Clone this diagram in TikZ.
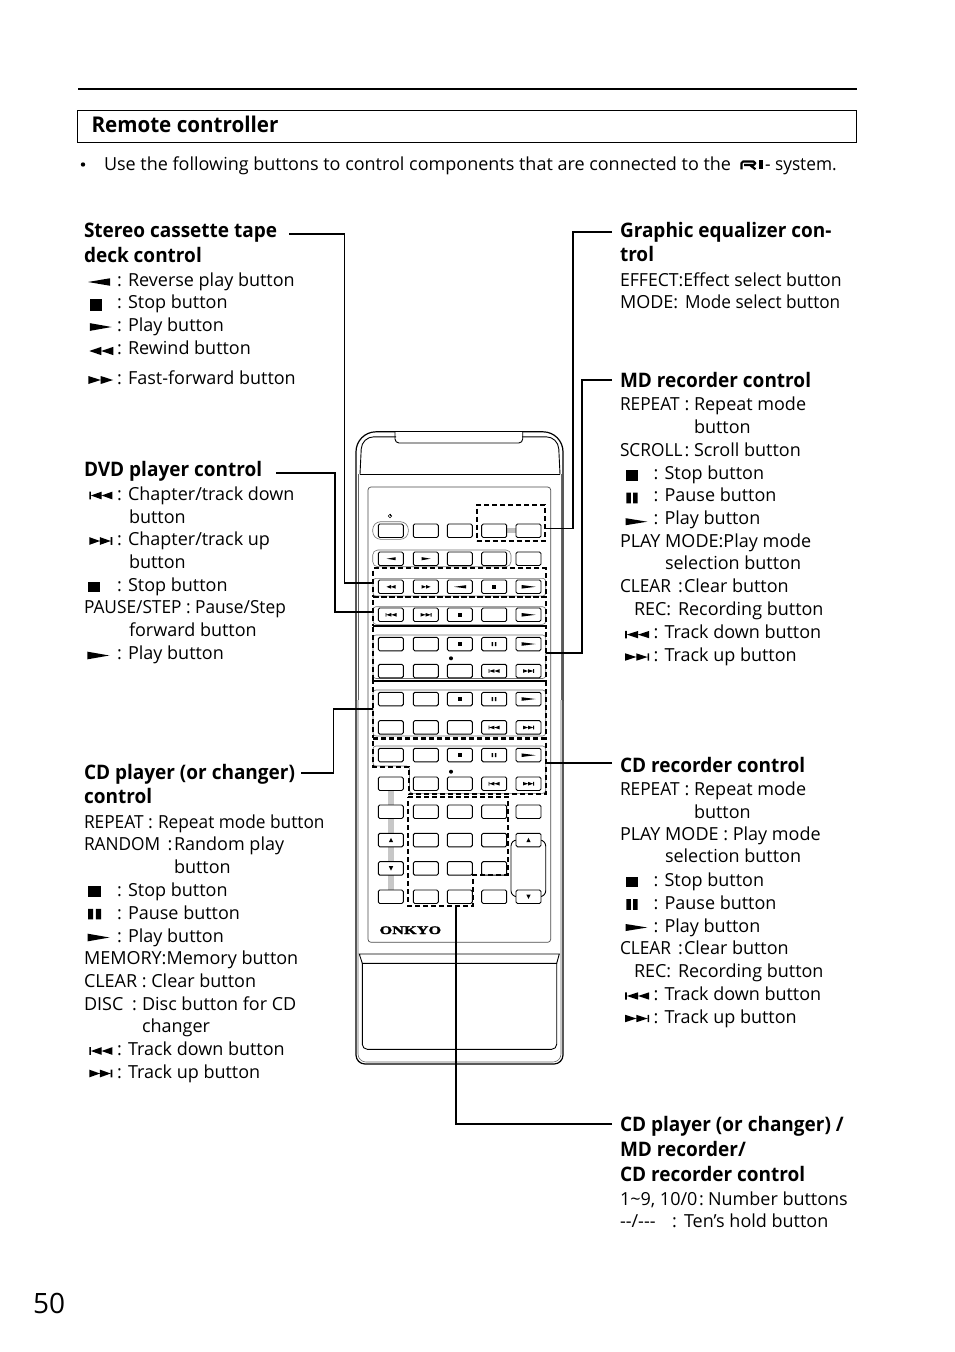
\documentclass[tikz,border=0pt]{standalone}
\usepackage{fontspec}
\setmainfont{Open Sans}[BoldFeatures={FakeStretch=0.95}]
\newfontfamily\onkyofont{Liberation Serif}[BoldFeatures={FakeBold=1.2}]
\newcounter{auton}
\newcommand{\TT}[3]{\stepcounter{auton}\node[txt] (t\arabic{auton}) at (#1,#2) {#3};}
\newcommand{\HH}[3]{\stepcounter{auton}\node[hd] (t\arabic{auton}) at (#1,#2) {#3};}
\newcommand{\Btn}[2]{\stepcounter{auton}\node[btn] (b\arabic{auton}) at (#1,#2) {};}
\newcommand{\nw}[1]{\scalebox{.96}[1]{#1}}
\newcommand{\gl}[5]{\fill[shift={(#2,#3)},xscale=#4/2,yscale=#5/2] #1;}
\def\pRev{(-1,0)--(1,-1)--(1,1)--cycle}
\def\pPlay{(1,0)--(-1,-1)--(-1,1)--cycle}
\def\pRew{(-1,0)--(0,-1)--(0,1)--cycle (0,0)--(1,-1)--(1,1)--cycle}
\def\pFf{(1,0)--(0,-1)--(0,1)--cycle (0,0)--(-1,-1)--(-1,1)--cycle}
\def\pPrev{(-1,-1) rectangle (-.86,1) (-.86,0)--(.07,-1)--(.07,1)--cycle (.07,0)--(1,-1)--(1,1)--cycle}
\def\pNext{(1,-1) rectangle (.86,1) (.86,0)--(-.07,-1)--(-.07,1)--cycle (-.07,0)--(-1,-1)--(-1,1)--cycle}
\def\pStop{(-1,-1) rectangle (1,1)}
\def\pPause{(-1,-1) rectangle (-.2,1) (.2,-1) rectangle (1,1)}
\def\pPauseS{(-1,-1) rectangle (-.4,1) (.4,-1) rectangle (1,1)}
\def\pUp{(0,-1)--(1,1)--(-1,1)--cycle}
\def\pDown{(0,1)--(1,-1)--(-1,-1)--cycle}
\tikzset{
 txt/.style={anchor=base west,inner sep=0pt,outer sep=0pt,font=\fontsize{18}{22}\selectfont},
 hd/.style={anchor=base west,inner sep=0pt,outer sep=0pt,font=\fontsize{20}{24}\selectfont\bfseries},
 btn/.style={draw=black,fill=white,line width=.95pt,rounded corners=1.5pt,anchor=north west,minimum width=25pt,minimum height=13.5pt,inner sep=0pt,outer sep=0pt},
 conn/.style={draw=black,line width=1.8pt},
 dbox/.style={draw=black,line width=2pt,dash pattern=on 5pt off 3pt,inner sep=0pt,outer sep=0pt,anchor=north west},
 dline/.style={draw=black,line width=2pt,dash pattern=on 5pt off 3pt},
 grp/.style={draw=black!55,line width=.6pt,rounded corners=3pt},
 body/.style={draw=black,line width=.9pt},
 inner/.style={draw=black!60,line width=.6pt},
}
\begin{document}
\begin{tikzpicture}[x=1pt,y=-1pt]
\useasboundingbox (0,0) rectangle (954,1352);
\fill[white] (0,0) rectangle (954,1352);
% header
\coordinate (ruleL) at (78,89);\coordinate (ruleR) at (857,89);
\draw[line width=1.8pt] (ruleL)--(ruleR);
\draw[line width=.9pt] (77.5,110) rectangle (856.5,142);
\HH{91.5}{132}{\fontsize{21.7}{24}\selectfont Remote controller}
\fill (83,164.5) circle (2.2);
\TT{104}{170}{Use the following buttons to control components that are connected to the}
\draw[line width=2.2pt,line join=round,rounded corners=1.6pt] (741.5,169.3)--(741.5,161.5)--(755.2,161.5)--(755.2,165)--(744,165) (750,165)--(755.5,169.3);
\fill (759,160.3) rectangle (763,169.3);
\TT{765}{170}{\nw{- system.}}
\TT{33}{1313}{\fontsize{28}{32}\selectfont 50}
% remote body
\draw[body,line width=1.2pt,rounded corners=20pt] (395,431.8)--(356,431.8)--(356,700);
\draw[body,line width=1.2pt,rounded corners=9pt] (356,700)--(356,1064)--(563,1064)--(563,700);
\draw[body,line width=1.2pt,rounded corners=20pt] (563,700)--(563,431.8)--(522.7,431.8);
\draw[body,rounded corners=4pt] (395,431.8)--(395,443)--(522.7,443)--(522.7,431.8);
\draw[body,line width=1.2pt] (395,431.8)--(522.7,431.8);
\draw[inner,rounded corners=8pt] (358,700)--(358,1062)--(561,1062)--(561,700);
\draw[inner] (358,474)--(358,700) (561,474)--(561,700);
\draw[body,rounded corners=12pt] (360,474.3)--(361.8,436.8)--(396,436.8);
\draw[body,rounded corners=12pt] (560,474.3)--(558.2,436.8)--(522,436.8);
\draw[body] (360,474.3)--(560,474.3);
\draw[draw=black!70,line width=.7pt,rounded corners=3pt] (368,942.3)--(368,487)--(550.7,487)--(550.7,942.3)--cycle;
% lower cover
\draw[body] (359.3,954)--(559.3,954)--(556.7,963.3)--(362.3,963.3)--cycle;
\draw[body,rounded corners=5pt] (362.3,963.3)--(362.3,1049.3)--(556.7,1049.3)--(556.7,963.3);
% gray parts
\fill[black!25] (506.7,528) rectangle (516,533);
\fill[black!22] (388.3,790) rectangle (394,890);
\draw[grp,rounded corners=8pt] (372.7,521.7) rectangle (408.3,539.3);
\draw[grp,rounded corners=5pt] (372.7,550) rectangle (511,566.7);
\draw[grp] (373,578.3) rectangle (545.7,596);
\draw[grp] (373,606.7) rectangle (545.7,624.3);
\draw[grp] (373,635) rectangle (545.7,678.5);
\draw[grp] (373,690) rectangle (545.7,736);
\draw[grp] (373,746)--(545.7,746)--(545.7,793.3)--(409.5,793.3)--(409.5,766)--(373,766)--cycle;
\draw[draw=black,line width=.9pt,rounded corners=6pt] (511,840)--(511,896.7)--(545.7,896.7)--(545.7,840)--cycle;
% buttons
\foreach \yy in {524,552,580,608,637.3,664.3,692.3,720.7,748.3,777,805,833.3,890}{
 \foreach \xx in {378.3,413.3,447.3,481.7,516}{
  \Btn{\xx}{\yy}
 }}
\foreach \xx in {378.3,413.3,447.3,481.7}{\Btn{\xx}{861.7}}
% power symbol
\draw[line width=.5pt] (390,516) circle (1.8);\draw[line width=.6pt] (390,513.5)--(390,516);
% button glyphs
\newcommand{\cA}{391}\newcommand{\cB}{426}\newcommand{\cC}{460}\newcommand{\cD}{494}\newcommand{\cE}{528.5}
\gl{\pRev}{\cA}{558.7}{9}{3}\gl{\pPlay}{\cB}{558.7}{9}{3.2}
\gl{\pRew}{\cA}{586.8}{9}{3.6}\gl{\pFf}{\cB}{586.8}{9}{3.6}\gl{\pRev}{\cC}{586.8}{12}{3.2}\gl{\pStop}{\cD}{586.8}{4}{4}\gl{\pPlay}{\cE}{586.8}{14}{3.6}
\gl{\pPrev}{\cA}{614.8}{11}{3.6}\gl{\pNext}{\cB}{614.8}{11}{3.6}\gl{\pStop}{\cC}{614.8}{4}{4}\gl{\pPlay}{\cE}{614.8}{14}{3.6}
\gl{\pStop}{\cC}{644}{4}{4}\gl{\pPauseS}{\cD}{644}{4.6}{4}\gl{\pPlay}{\cE}{644}{14}{3.6}
\gl{\pPrev}{\cD}{671}{11}{3.6}\gl{\pNext}{\cE}{671}{11}{3.6}
\gl{\pStop}{\cC}{699}{4}{4}\gl{\pPauseS}{\cD}{699}{4.6}{4}\gl{\pPlay}{\cE}{699}{14}{3.6}
\gl{\pPrev}{\cD}{727.5}{11}{3.6}\gl{\pNext}{\cE}{727.5}{11}{3.6}
\gl{\pStop}{\cC}{755.2}{4}{4}\gl{\pPauseS}{\cD}{755.2}{4.6}{4}\gl{\pPlay}{\cE}{755.2}{14}{3.6}
\gl{\pPrev}{\cD}{783.7}{11}{3.6}\gl{\pNext}{\cE}{783.7}{11}{3.6}
\gl{\pUp}{\cA}{840}{4.4}{4.4}\gl{\pUp}{\cE}{840}{4.4}{4.4}
\gl{\pDown}{\cA}{868.4}{4.4}{4.4}\gl{\pDown}{\cE}{896.7}{4.4}{4.4}
\fill (451,658.3) circle (2);\fill (451,771.7) circle (2);
\node[anchor=base west,inner sep=0pt] (onkyo) at (379.3,934) {\onkyofont\bfseries\scalebox{1.42}[1]{\fontsize{11.5}{12}\selectfont ONKYO}};
% dashed regions
\node[dbox,minimum width=172.4pt,minimum height=29pt] (boxCass) at (373.3,568.3) {};
\node[dbox,minimum width=172.4pt,minimum height=28.7pt] (boxDvd) at (373.3,597.3) {};
\node[dbox,minimum width=172.4pt,minimum height=54.7pt] (boxMd) at (373.3,626) {};
\node[dbox,minimum width=172.4pt,minimum height=57pt] (boxCd) at (373.3,680.7) {};
\node[dbox,minimum width=68.3pt,minimum height=35.7pt] (boxEq) at (476.7,505) {};
\coordinate (recNW) at (373.3,739);\coordinate (recNE) at (545.7,739);\coordinate (recSE) at (545.7,794.3);\coordinate (recSM) at (409,794.3);\coordinate (recM) at (409,766.7);\coordinate (recSW) at (373.3,766.7);
\draw[dline] (recNW)--(recNE)--(recSE)--(recSM)--(recM)--(recSW)--cycle;
\coordinate (numNW) at (408.3,796.7);\coordinate (numNE) at (507.7,796.7);\coordinate (numE) at (507.7,875);\coordinate (numI) at (473.3,875);\coordinate (numSE) at (473.3,905.7);\coordinate (numS) at (456,905.7);\coordinate (numSW) at (408.3,905.7);
\draw[dline] (numNW)--(numNE)--(numE)--(numI)--(numSE)--(numSW)--cycle;
% connectors
\coordinate (s1) at (289,234);\coordinate (m1) at (344.5,400);
\draw[conn] (s1) -| (m1) |- (boxCass.west);
\coordinate (s2) at (276,473);\coordinate (m2) at (335,550);
\draw[conn] (s2) -| (m2) |- (boxDvd.west);
\coordinate (s3) at (301,773);\coordinate (m3) at (333.5,740);
\draw[conn] (s3) -| (m3) |- (boxCd.west);
\coordinate (s4) at (612,232);\coordinate (m4) at (573,400);\coordinate (e4) at (546,528.5);
\draw[conn] (s4) -| (m4) |- (e4);
\coordinate (s5) at (612,380);\coordinate (m5) at (582,500);
\draw[conn] (s5) -| (m5) |- (boxMd.east);
\coordinate (s6) at (612,763);\coordinate (e6) at (546,763);
\draw[conn] (s6)--(e6);
\coordinate (s7) at (612,1124);
\draw[conn] (s7) -| (numS);
% left: cassette
\HH{84}{237.2}{Stereo cassette tape}
\HH{84}{262.2}{deck control}
\gl{\pRev}{99}{282}{22}{7.5}\TT{117}{286}{: Reverse play button}
\gl{\pStop}{96.2}{305}{12.3}{11.4}\TT{117}{308.5}{: Stop button}
\gl{\pPlay}{100.8}{327}{21.7}{7.7}\TT{117}{331}{: Play button}
\gl{\pRew}{101.3}{351}{24}{8.3}\TT{117}{354}{: Rewind button}
\gl{\pFf}{100.7}{380}{24.7}{8}\TT{117}{384}{: Fast-forward button}
% left: dvd
\HH{84}{476.4}{DVD player control}
\gl{\pPrev}{100.8}{495.5}{23}{7.7}\TT{117}{500}{: Chapter/track down}
\TT{129}{523}{button}
\gl{\pNext}{100.8}{541}{23}{7.7}\TT{117}{545.7}{: Chapter/track up}
\TT{129}{568}{button}
\gl{\pStop}{94.2}{586.7}{11.7}{10}\TT{117}{591.2}{: Stop button}
\TT{84}{613.7}{\nw{PAUSE/STEP : Pause/Step}}
\TT{129}{636.4}{forward button}
\gl{\pPlay}{98.3}{655.5}{22}{7.7}\TT{117}{659}{: Play button}
% left: cd
\HH{84}{779.2}{CD player (or changer)}
\HH{84}{803.7}{control}
\TT{84}{828}{\nw{REPEAT}}\TT{148}{828}{:}\TT{158}{828}{\nw{Repeat mode button}}
\TT{84}{850}{\nw{RANDOM}}\TT{167.5}{850}{:}\TT{174}{850}{Random play}
\TT{174}{873}{button}
\gl{\pStop}{94.5}{891}{12.3}{11}\TT{117}{896}{: Stop button}
\gl{\pPause}{94.5}{914}{13}{10.5}\TT{117}{919}{: Pause button}
\gl{\pPlay}{98.5}{937.5}{22}{7.7}\TT{117}{942}{: Play button}
\TT{84}{964.5}{MEMORY:Memory button}
\TT{84}{987}{CLEAR : Clear button}
\TT{84}{1010}{DISC}\TT{132}{1010}{:}\TT{142}{1010}{Disc button for CD}
\TT{142}{1032}{changer}
\gl{\pPrev}{100.8}{1051}{23}{7.7}\TT{117}{1055}{: Track down button}
\gl{\pNext}{100.8}{1073.5}{23}{7.7}\TT{117}{1078}{: Track up button}
% right: eq
\HH{620}{237.2}{Graphic equalizer con-}
\HH{620}{261.7}{trol}
\TT{620}{286}{\scalebox{.98}[1]{EFFECT:Effect select button}}
\TT{620}{308.5}{MODE:}\TT{685}{308.5}{\scalebox{.955}[1]{Mode select button}}
% right: md
\HH{620}{387.4}{MD recorder control}
\TT{620}{410}{\nw{REPEAT}}\TT{684.5}{410}{:}\TT{694}{410}{Repeat mode}
\TT{694}{433}{button}
\TT{620}{456}{\nw{SCROLL}}\TT{684.5}{456}{:}\TT{694}{456}{Scroll button}
\gl{\pStop}{632}{475.3}{11.3}{10.7}\TT{653.5}{479}{: Stop button}
\gl{\pPause}{632}{498}{11.3}{10.7}\TT{653.5}{501.7}{: Pause button}
\gl{\pPlay}{636.5}{521.7}{21.6}{7}\TT{653.5}{524.3}{: Play button}
\TT{620}{547}{PLAY MODE:Play mode}
\TT{665}{569.5}{selection button}
\TT{620}{592.5}{\nw{CLEAR}}\TT{678}{592.5}{:}\TT{684}{592.5}{Clear button}
\TT{634}{615}{REC:}\TT{678}{615}{Recording button}
\gl{\pPrev}{637.2}{634.6}{24}{7.4}\TT{653.5}{638}{: Track down button}
\gl{\pNext}{637.2}{657}{24}{7.4}\TT{653.5}{661}{: Track up button}
% right: cd recorder
\HH{620}{772.2}{CD recorder control}
\TT{620}{795}{\nw{REPEAT}}\TT{684.5}{795}{:}\TT{694}{795}{Repeat mode}
\TT{694}{818}{button}
\TT{620}{840}{PLAY MODE : Play mode}
\TT{665}{862.7}{selection button}
\gl{\pStop}{632}{882}{11.3}{10.7}\TT{653.5}{886}{: Stop button}
\gl{\pPause}{632}{904.5}{11.3}{10.7}\TT{653.5}{909}{: Pause button}
\gl{\pPlay}{636.5}{927.5}{21.6}{7}\TT{653.5}{932}{: Play button}
\TT{620}{954}{\nw{CLEAR}}\TT{678}{954}{:}\TT{684}{954}{Clear button}
\TT{634}{977}{REC:}\TT{678}{977}{Recording button}
\gl{\pPrev}{637.2}{996}{24}{7.4}\TT{653.5}{1000}{: Track down button}
\gl{\pNext}{637.2}{1018.5}{24}{7.4}\TT{653.5}{1023}{: Track up button}
% right: bottom
\HH{620}{1131}{CD player (or changer) /}
\HH{620}{1156}{MD recorder/}
\HH{620}{1181}{CD recorder control}
\TT{620}{1205}{1\textasciitilde 9, 10/0}\TT{699}{1205}{:}\TT{708}{1205}{Number buttons}
\TT{620}{1227}{-{}-/-{}-{}-}\TT{672}{1227}{:}\TT{684}{1227}{Ten’s hold button}
\end{tikzpicture}
\end{document}
